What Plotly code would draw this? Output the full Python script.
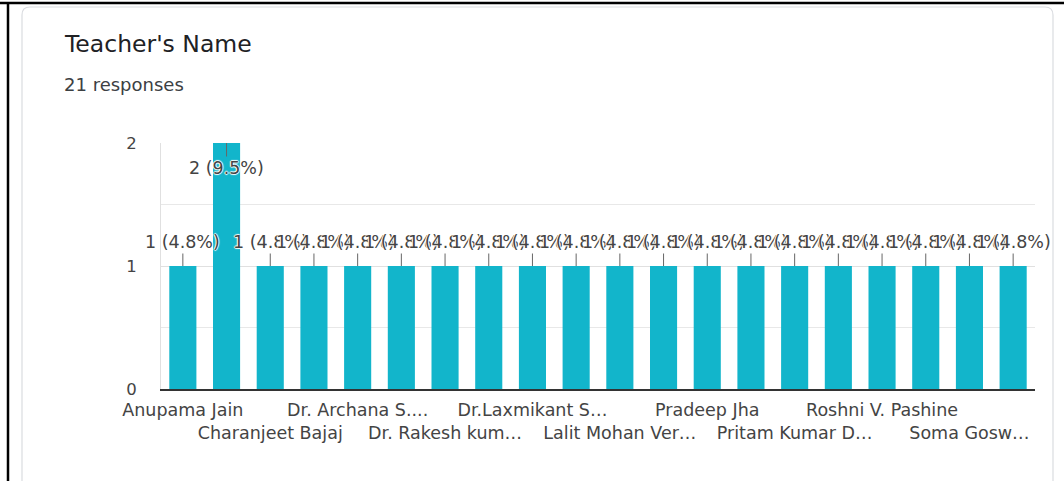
import plotly.graph_objects as go

# ---- data ----
counts = [1, 2, 1, 1, 1, 1, 1, 1, 1, 1, 1, 1, 1, 1, 1, 1, 1, 1, 1, 1]
label_index = [0, 2, 4, 6, 8, 10, 12, 14, 16, 18]
label_names = ["Anupama Jain", "Charanjeet Bajaj", "Dr. Archana S....", "Dr. Rakesh kum\u2026",
               "Dr.Laxmikant S\u2026", "Lalit Mohan Ver\u2026", "Pradeep Jha", "Pritam Kumar D\u2026",
               "Roshni V. Pashine", "Soma Gosw\u2026"]
y_ticks = [0, 1, 2]
title = "Teacher's Name"
subtitle = "21 responses"

W, H = 1064, 481
def px(x): return x / W
def py(y): return 1 - y / H

FONT = "DejaVu Sans"
BAR = "#12B5CB"

total = sum(counts)
xs = list(range(len(counts)))

fig = go.Figure()
fig.add_trace(go.Bar(x=xs, y=counts, marker=dict(color=BAR, line=dict(width=0)),
                     hoverinfo="skip", showlegend=False))

ticktext = [n if k % 2 == 0 else "<br>" + n for k, n in enumerate(label_names)]

annotations = []
for i, v in enumerate(counts):
    pct = 100 * v / total
    top = v >= max(counts)
    annotations.append(dict(
        x=i, y=v, xref="x", yref="y",
        text=f"{v} ({pct:.1f}%)",
        showarrow=True, arrowhead=0, arrowwidth=1, arrowcolor="#666",
        ax=0, ay=25 if top else -24,
        font=dict(family=FONT, size=17.5, color="#444",
                  shadow="1px 0px 1px white, -1px 0px 1px white, 0px 1px 1px white, 0px -1px 1px white"),
    ))

annotations.append(dict(x=px(62), y=py(44), xref="paper", yref="paper", xanchor="left", yanchor="middle",
                        text=title, showarrow=False, font=dict(family=FONT, size=23.5, color="#202124")))
annotations.append(dict(x=px(62), y=py(84), xref="paper", yref="paper", xanchor="left", yanchor="middle",
                        text=subtitle, showarrow=False, font=dict(family=FONT, size=18, color="#3c4043")))

# card outline and outer frame
r = 8
x0, x1, y0, y1 = 22, 1053, 7, 500
card_path = (f"M {px(x0+r)},{py(y0)} L {px(x1-r)},{py(y0)} Q {px(x1)},{py(y0)} {px(x1)},{py(y0+r)} "
             f"L {px(x1)},{py(y1)} L {px(x0)},{py(y1)} L {px(x0)},{py(y0+r)} Q {px(x0)},{py(y0)} {px(x0+r)},{py(y0)} Z")
shapes = [
    dict(type="path", path=card_path, xref="paper", yref="paper",
         line=dict(color="#dadce0", width=1.2), fillcolor="white", layer="below"),
    dict(type="line", xref="paper", yref="paper", x0=0, x1=1, y0=py(3), y1=py(3),
         line=dict(color="black", width=2.5)),
    dict(type="line", xref="paper", yref="paper", x0=px(8), x1=px(8), y0=py(3), y1=0,
         line=dict(color="black", width=2.5)),
]

fig.update_layout(
    width=W, height=H, autosize=False,
    margin=dict(l=0, r=0, t=0, b=0),
    paper_bgcolor="white", plot_bgcolor="rgba(0,0,0,0)",
    bargap=0.38,
    annotations=annotations, shapes=shapes,
    xaxis=dict(domain=[px(161), px(1035)], range=[-0.5, len(counts) - 0.5],
               tickmode="array", tickvals=label_index, ticktext=ticktext, tickangle=0,
               showgrid=False, zeroline=False, showline=True, linecolor="#333", linewidth=1.5,
               ticks="", ticklabelstandoff=4, automargin=False,
               tickfont=dict(family=FONT, size=17.5, color="#444")),
    yaxis=dict(domain=[1 - 389 / H, 1 - 143 / H], range=[0, 2],
               tickmode="array", tickvals=y_ticks, ticks="",
               showgrid=True, gridcolor="#e0e0e0", gridwidth=1,
               minor=dict(dtick=0.5, showgrid=True, gridcolor="#e8e8e8", gridwidth=1, tick0=0),
               zeroline=False, showline=True, linecolor="#e0e0e0", linewidth=1,
               ticklabelstandoff=20, automargin=False,
               tickfont=dict(family=FONT, size=16.5, color="#444")),
)

fig.write_html("out.html", config={"displayModeBar": False},
               post_script="document.body.style.margin='0';")
